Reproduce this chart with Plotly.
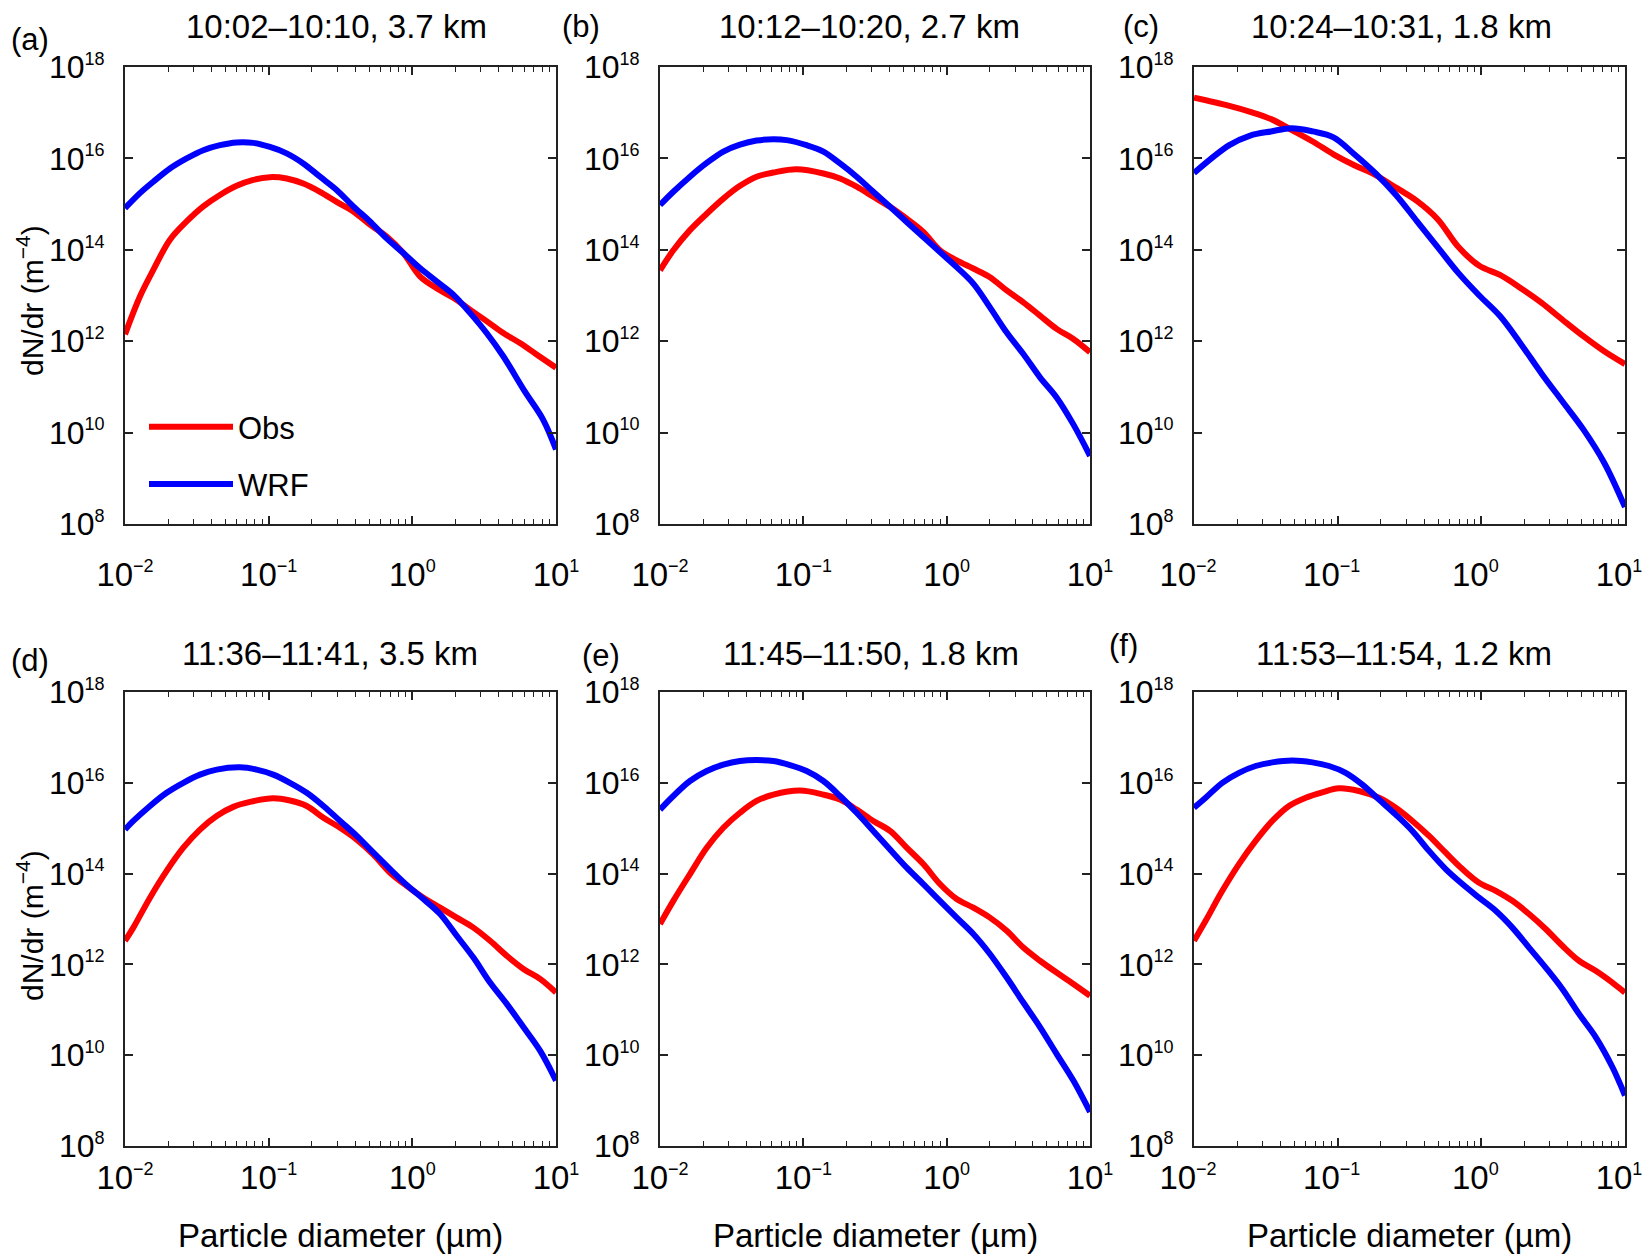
import numpy as np
import plotly.graph_objects as go

W, H = 1652, 1259          # target picture size
OFF = 8                    # default page margin of the html body
FW, FH = W - OFF, H - OFF  # figure size so that the figure ends at the window edge

# ---------------- data (log10 of diameter in um, log10 of dN/dr in m^-4) ----------------
# (a) 10:02-10:10, 3.7 km
a_logd = [-2.000, -1.896, -1.803, -1.687, -1.571, -1.455, -1.339, -1.223, -1.107, -0.991, -0.875, -0.759, -0.643,
          -0.527, -0.411, -0.295, -0.179, -0.063, 0.053, 0.169, 0.285, 0.401, 0.517, 0.633, 0.749, 0.865, 1.000]
a_obs_logn = [12.15, 12.98, 13.56, 14.22, 14.62, 14.95, 15.20, 15.40, 15.53, 15.59, 15.56, 15.45, 15.27,
              15.05, 14.84, 14.55, 14.29, 13.93, 13.42, 13.16, 12.95, 12.69, 12.44, 12.18, 11.96, 11.71, 11.42]
a_wrf_logd = [-2.000, -1.896, -1.803, -1.687, -1.571, -1.455, -1.339, -1.223, -1.107, -0.991, -0.875, -0.759, -0.643,
              -0.527, -0.411, -0.295, -0.179, -0.063, 0.053, 0.169, 0.285, 0.401, 0.517, 0.633, 0.785, 0.911, 1.000]
a_wrf_logn = [14.91, 15.24, 15.49, 15.78, 16.00, 16.18, 16.29, 16.35, 16.34, 16.25, 16.11, 15.89, 15.60,
              15.31, 14.95, 14.62, 14.25, 13.93, 13.60, 13.31, 13.02, 12.62, 12.18, 11.67, 10.89, 10.28, 9.63]

# (b) 10:12-10:20, 2.7 km
b_obs_logd = [-2.000, -1.907, -1.791, -1.674, -1.558, -1.442, -1.326, -1.209, -1.047, -0.860, -0.744, -0.628, -0.512,
              -0.395, -0.279, -0.163, -0.047, 0.070, 0.186, 0.302, 0.419, 0.535, 0.651, 0.767, 0.884, 1.000]
b_obs_logn = [13.55, 13.99, 14.43, 14.79, 15.12, 15.40, 15.60, 15.69, 15.76, 15.67, 15.56, 15.38, 15.16,
              14.94, 14.68, 14.39, 13.99, 13.77, 13.59, 13.40, 13.11, 12.85, 12.56, 12.27, 12.05, 11.76]
b_wrf_logd = [-2.000, -1.907, -1.791, -1.674, -1.558, -1.442, -1.326, -1.209, -1.116, -0.977, -0.860, -0.744, -0.628,
              -0.512, -0.395, -0.279, -0.163, -0.047, 0.070, 0.186, 0.302, 0.419, 0.535, 0.651, 0.767, 0.884, 1.000]
b_wrf_logn = [14.98, 15.27, 15.60, 15.90, 16.15, 16.30, 16.39, 16.42, 16.40, 16.29, 16.15, 15.89, 15.60,
              15.27, 14.94, 14.61, 14.28, 13.95, 13.62, 13.26, 12.74, 12.19, 11.72, 11.21, 10.77, 10.18, 9.49]

# (c) 10:24-10:31, 1.8 km
c_logd = [-2.000, -1.754, -1.609, -1.464, -1.319, -1.174, -1.029, -0.884, -0.739, -0.594, -0.449,
          -0.304, -0.159, -0.014, 0.130, 0.275, 0.420, 0.565, 0.710, 0.855, 1.000]
c_obs_logn = [17.33, 17.15, 17.02, 16.86, 16.62, 16.37, 16.09, 15.85, 15.64, 15.36, 15.07,
              14.67, 14.06, 13.65, 13.45, 13.16, 12.84, 12.47, 12.11, 11.78, 11.50]
c_wrf_logn = [15.68, 16.29, 16.50, 16.59, 16.66, 16.59, 16.46, 16.09, 15.68, 15.20, 14.63,
              14.06, 13.49, 13.00, 12.55, 11.94, 11.29, 10.68, 10.07, 9.34, 8.37]

# (d) 11:36-11:41, 3.5 km
d_obs_logd = [-2.000, -1.942, -1.826, -1.710, -1.594, -1.478, -1.362, -1.246, -1.130, -0.968, -0.852, -0.735, -0.619,
              -0.503, -0.387, -0.271, -0.155, -0.039, 0.077, 0.193, 0.309, 0.425, 0.541, 0.657, 0.773, 0.889, 1.000]
d_obs_logn = [12.52, 12.81, 13.47, 14.06, 14.57, 14.97, 15.27, 15.47, 15.58, 15.66, 15.61, 15.49, 15.23,
              15.01, 14.75, 14.42, 14.02, 13.73, 13.47, 13.25, 13.03, 12.81, 12.52, 12.19, 11.90, 11.68, 11.38]
d_wrf_logd = [-2.000, -1.942, -1.826, -1.710, -1.594, -1.478, -1.362, -1.200, -1.084, -0.968, -0.852, -0.735, -0.619,
              -0.503, -0.387, -0.271, -0.155, -0.039, 0.077, 0.193, 0.309, 0.425, 0.541, 0.657, 0.773, 0.889, 1.000]
d_wrf_logn = [14.97, 15.16, 15.49, 15.78, 16.00, 16.18, 16.29, 16.34, 16.29, 16.18, 16.00, 15.78, 15.49,
              15.16, 14.83, 14.46, 14.10, 13.75, 13.44, 13.11, 12.63, 12.15, 11.60, 11.13, 10.62, 10.10, 9.44]

# (e) 11:45-11:50, 1.8 km
e_obs_logd = [-2.000, -1.907, -1.791, -1.674, -1.558, -1.442, -1.326, -1.209, -1.023, -0.860, -0.744, -0.628, -0.512,
              -0.395, -0.279, -0.163, -0.047, 0.070, 0.186, 0.302, 0.419, 0.535, 0.651, 0.767, 0.884, 1.000]
e_obs_logn = [12.89, 13.40, 13.99, 14.57, 15.01, 15.34, 15.60, 15.74, 15.83, 15.74, 15.63, 15.41, 15.16,
              14.94, 14.57, 14.21, 13.77, 13.44, 13.25, 13.03, 12.74, 12.37, 12.08, 11.82, 11.57, 11.31]
e_wrf_logd = [-2.000, -1.907, -1.791, -1.674, -1.558, -1.442, -1.326, -1.209, -1.093, -0.977, -0.860, -0.744, -0.628,
              -0.512, -0.395, -0.279, -0.163, -0.047, 0.070, 0.186, 0.302, 0.419, 0.535, 0.651, 0.767, 0.884, 1.000]
e_wrf_logn = [15.41, 15.71, 16.04, 16.26, 16.40, 16.48, 16.50, 16.48, 16.39, 16.26, 16.04, 15.71, 15.34,
              14.94, 14.53, 14.13, 13.77, 13.40, 13.03, 12.67, 12.23, 11.71, 11.16, 10.62, 10.03, 9.44, 8.75]

# (f) 11:53-11:54, 1.2 km
f_obs_logd = [-2.000, -1.919, -1.803, -1.687, -1.571, -1.455, -1.339, -1.223, -1.107, -0.991, -0.852, -0.712, -0.596,
              -0.480, -0.364, -0.248, -0.132, -0.016, 0.100, 0.216, 0.332, 0.448, 0.564, 0.680, 0.796, 0.912, 1.000]
f_obs_logn = [12.52, 12.96, 13.62, 14.21, 14.72, 15.16, 15.49, 15.67, 15.79, 15.88, 15.82, 15.67, 15.45,
              15.16, 14.83, 14.46, 14.10, 13.80, 13.62, 13.40, 13.11, 12.78, 12.41, 12.08, 11.86, 11.60, 11.38]
f_wrf_logd = [-2.000, -1.919, -1.803, -1.687, -1.571, -1.455, -1.316, -1.176, -1.060, -0.944, -0.828, -0.712, -0.596,
              -0.480, -0.364, -0.248, -0.132, -0.016, 0.100, 0.216, 0.332, 0.448, 0.564, 0.680, 0.796, 0.912, 1.000]
f_wrf_logn = [15.45, 15.67, 16.00, 16.22, 16.37, 16.45, 16.49, 16.45, 16.37, 16.22, 15.96, 15.63, 15.30,
              14.94, 14.50, 14.10, 13.77, 13.47, 13.18, 12.81, 12.37, 11.93, 11.46, 10.91, 10.40, 9.74, 9.11]

panel_letters = ["(a)", "(b)", "(c)", "(d)", "(e)", "(f)"]
panel_titles = ["10:02\u201310:10, 3.7 km", "10:12\u201310:20, 2.7 km", "10:24\u201310:31, 1.8 km",
                "11:36\u201311:41, 3.5 km", "11:45\u201311:50, 1.8 km", "11:53\u201311:54, 1.2 km"]
series_names = ["Obs", "WRF"]
series_colors = ["#ff0000", "#0000ff"]
x_tick_exp = [-2, -1, 0, 1]
y_tick_exp = [8, 10, 12, 14, 16, 18]
x_title = "Particle diameter (\u00b5m)"
y_title = "dN/dr (m<sup>\u22124</sup>)"

panels = [
    (a_logd, a_obs_logn, a_wrf_logd, a_wrf_logn),
    (b_obs_logd, b_obs_logn, b_wrf_logd, b_wrf_logn),
    (c_logd, c_obs_logn, c_logd, c_wrf_logn),
    (d_obs_logd, d_obs_logn, d_wrf_logd, d_wrf_logn),
    (e_obs_logd, e_obs_logn, e_wrf_logd, e_wrf_logn),
    (f_obs_logd, f_obs_logn, f_wrf_logd, f_wrf_logn),
]

# ---------------- layout geometry (target pixels) ----------------
col_px = [(125, 556), (660, 1090), (1194, 1625)]
row_px = [(67, 524), (692, 1146)]

FONT = "Liberation Sans, Arial, Helvetica, sans-serif"

def fx(px):
    return (px - OFF) / FW

def fy(py):
    return 1 - (py - OFF) / FH

def sup_label(e, size=18):
    s = str(e).replace("-", "\u2212")
    return "10<sup><span style='font-size:%dpx'>%s</span></sup>" % (size, s)

fig = go.Figure()
layout = {}
annotations = []

for i, (od, on, wd, wn) in enumerate(panels):
    r, c = divmod(i, 3)
    k = i + 1
    xa = "x" if k == 1 else "x%d" % k
    ya = "y" if k == 1 else "y%d" % k
    for j, (dd, nn) in enumerate([(od, on), (wd, wn)]):
        fig.add_trace(go.Scatter(
            x=10 ** np.array(dd), y=10 ** np.array(nn), mode="lines",
            line=dict(color=series_colors[j], width=6, shape="spline", smoothing=1.0),
            name=series_names[j], legendgroup=series_names[j],
            showlegend=(i == 0), xaxis=xa, yaxis=ya))
    x0, x1 = col_px[c]
    y0, y1 = row_px[r]
    xkey = "xaxis" if k == 1 else "xaxis%d" % k
    ykey = "yaxis" if k == 1 else "yaxis%d" % k
    layout[xkey] = dict(
        type="log", range=[-2, 1], domain=[fx(x0), fx(x1)], anchor=ya, automargin=False,
        showline=True, linecolor="#222", linewidth=2, mirror="ticks",
        ticks="inside", ticklen=8, tickwidth=1.5, tickcolor="#222",
        tickvals=[10.0 ** e for e in x_tick_exp],
        ticktext=[sup_label(e) for e in x_tick_exp],
        ticklabelstandoff=20 if r == 0 else 1,
        ticklabelshift=-6 if c == 2 else 0,
        minor=dict(ticks="inside", ticklen=5, tickwidth=1.2, tickcolor="#222",
                   dtick="D1", showgrid=False),
        showgrid=False, zeroline=False,
        tickfont=dict(family=FONT, size=33, color="black"))
    layout[ykey] = dict(
        type="log", range=[8, 18], domain=[fy(y1), fy(y0)], anchor=xa, automargin=False,
        showline=True, linecolor="#222", linewidth=2, mirror="ticks",
        ticks="inside", ticklen=8, tickwidth=1.5, tickcolor="#222",
        tickvals=[10.0 ** e for e in y_tick_exp],
        ticktext=[sup_label(e) for e in y_tick_exp],
        ticklabelstandoff=12,
        showgrid=False, zeroline=False,
        tickfont=dict(family=FONT, size=32, color="black"))

# titles and panel letters
title_pos = [(336, 27), (869, 27), (1401, 27), (330, 653), (871, 653), (1404, 653)]
letter_pos = [(9, 39), (560, 27), (1121, 27), (9, 660), (580, 655), (1107, 645)]
for i in range(6):
    tx, ty = title_pos[i]
    annotations.append(dict(text=panel_titles[i], x=fx(tx), y=fy(ty), xref="paper", yref="paper",
                            xanchor="center", yanchor="middle", showarrow=False,
                            font=dict(family=FONT, size=33, color="black")))
    lx, ly = letter_pos[i]
    annotations.append(dict(text=panel_letters[i], x=fx(lx), y=fy(ly), xref="paper", yref="paper",
                            xanchor="left", yanchor="middle", showarrow=False,
                            font=dict(family=FONT, size=31, color="black")))

# axis titles
for r in range(2):
    y0, y1 = row_px[r]
    annotations.append(dict(text=y_title, x=fx(9), y=fy(y0 + 234), xref="paper", yref="paper",
                            xanchor="left", yanchor="middle", textangle=-90, showarrow=False,
                            font=dict(family=FONT, size=30, color="black")))
for c in range(3):
    x0, x1 = col_px[c]
    annotations.append(dict(text=x_title, x=fx((x0 + x1) / 2), y=fy(1235), xref="paper", yref="paper",
                            xanchor="center", yanchor="middle", showarrow=False,
                            font=dict(family=FONT, size=33, color="black")))

fig.update_layout(
    template="none",
    width=FW, height=FH, autosize=False,
    margin=dict(l=0, r=0, t=0, b=0, autoexpand=False),
    paper_bgcolor="white", plot_bgcolor="white",
    showlegend=True,
    legend=dict(x=fx(144), y=fy(400), xanchor="left", yanchor="top",
                bgcolor="rgba(0,0,0,0)", borderwidth=0,
                font=dict(family=FONT, size=31, color="black"),
                itemwidth=84, tracegroupgap=14, traceorder="grouped"),
    annotations=annotations,
    **layout)

fig.write_html("out.html")
